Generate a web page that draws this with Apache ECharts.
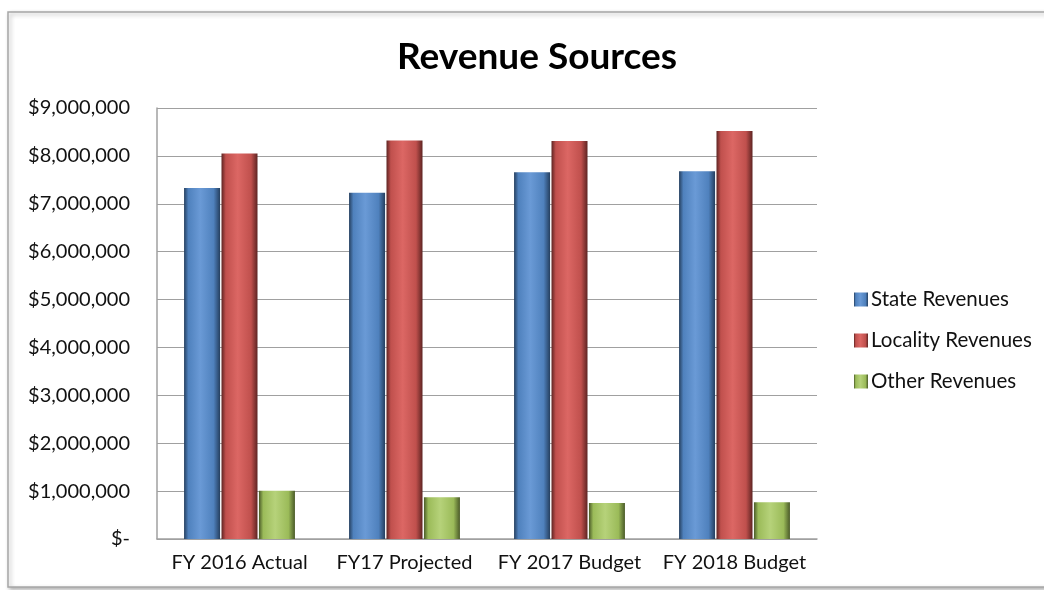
<!DOCTYPE html>
<html>
<head>
<meta charset="utf-8">
<script src="https://cdn.jsdelivr.net/npm/echarts@6/dist/echarts.min.js"></script>
<style>
  html, body { margin: 0; padding: 0; background: #fff; }
  #chart { width: 1044px; height: 590px; }
</style>
</head>
<body>
<div id="chart"></div>
<script>
// data
const categories = ["FY 2016 Actual", "FY17 Projected", "FY 2017 Budget", "FY 2018 Budget"];
const stateRevenues = [7330000, 7230000, 7660000, 7680000];
const localityRevenues = [8050000, 8320000, 8310000, 8520000];
const otherRevenues = [1010000, 870000, 750000, 770000];

const font = "Lato, 'Open Sans', sans-serif";

// bevel-ish look: darker edges left and right
function barColor(light, base, dark) {
  return new echarts.graphic.LinearGradient(0, 0, 1, 0, [
    { offset: 0, color: dark },
    { offset: 0.12, color: base },
    { offset: 0.45, color: light },
    { offset: 0.82, color: base },
    { offset: 1, color: dark }
  ]);
}

function money(v) {
  if (v === 0) return "$-";
  return "$" + v.toLocaleString("en-US");
}

let chart = echarts.init(document.getElementById("chart"));
chart.setOption({
  animation: false,
  graphic: [
    {
      type: "rect",
      shape: { x: 8, y: 12, width: 1050, height: 575 },
      style: { fill: "#fff", stroke: "#a6a6a6", lineWidth: 1.5, shadowBlur: 4, shadowColor: "rgba(0,0,0,0.3)", shadowOffsetX: 2, shadowOffsetY: 2 },
      z: -10
    }
  ],
  title: {
    text: "Revenue Sources",
    left: 532,
    top: 34,
    textAlign: "center",
    textStyle: { fontFamily: font, fontSize: 37, fontWeight: "bold", color: "#000" }
  },
  legend: {
    orient: "vertical",
    left: 849,
    top: 284,
    itemWidth: 14,
    itemHeight: 14,
    itemGap: 20,
    icon: "rect",
    textStyle: { fontFamily: font, fontSize: 20.5, color: "#111", padding: [0, 0, 0, -2] },
    data: ["State Revenues", "Locality Revenues", "Other Revenues"]
  },
  grid: {
    left: 157,
    right: 227,
    top: 108,
    bottom: 51
  },
  xAxis: {
    type: "category",
    data: categories,
    axisLine: { lineStyle: { color: "#a0a0a0", width: 1.5 } },
    axisTick: { show: false },
    axisLabel: { interval: 0, fontFamily: font, fontSize: 20, color: "#111", margin: 14 }
  },
  yAxis: {
    type: "value",
    min: 0,
    max: 9000000,
    interval: 1000000,
    axisLine: { show: true, lineStyle: { color: "#a0a0a0", width: 1.5 } },
    axisTick: { show: false },
    splitLine: { lineStyle: { color: "#a0a0a0", width: 1.2 } },
    axisLabel: { fontFamily: font, fontSize: 20, color: "#111", margin: 27, formatter: money }
  },
  series: [
    {
      name: "State Revenues",
      type: "bar",
      barWidth: 36,
      barGap: "4%",
      data: stateRevenues,
      itemStyle: { color: barColor("#6a9ad6", "#4f81bd", "#253f5f") }
    },
    {
      name: "Locality Revenues",
      type: "bar",
      barWidth: 36,
      barGap: "4%",
      data: localityRevenues,
      itemStyle: { color: barColor("#dc6764", "#c0504d", "#5e2422") }
    },
    {
      name: "Other Revenues",
      type: "bar",
      barWidth: 36,
      barGap: "4%",
      data: otherRevenues,
      itemStyle: { color: barColor("#b6d27a", "#9bbb59", "#4a5a28") }
    }
  ]
});
</script>
</body>
</html>
